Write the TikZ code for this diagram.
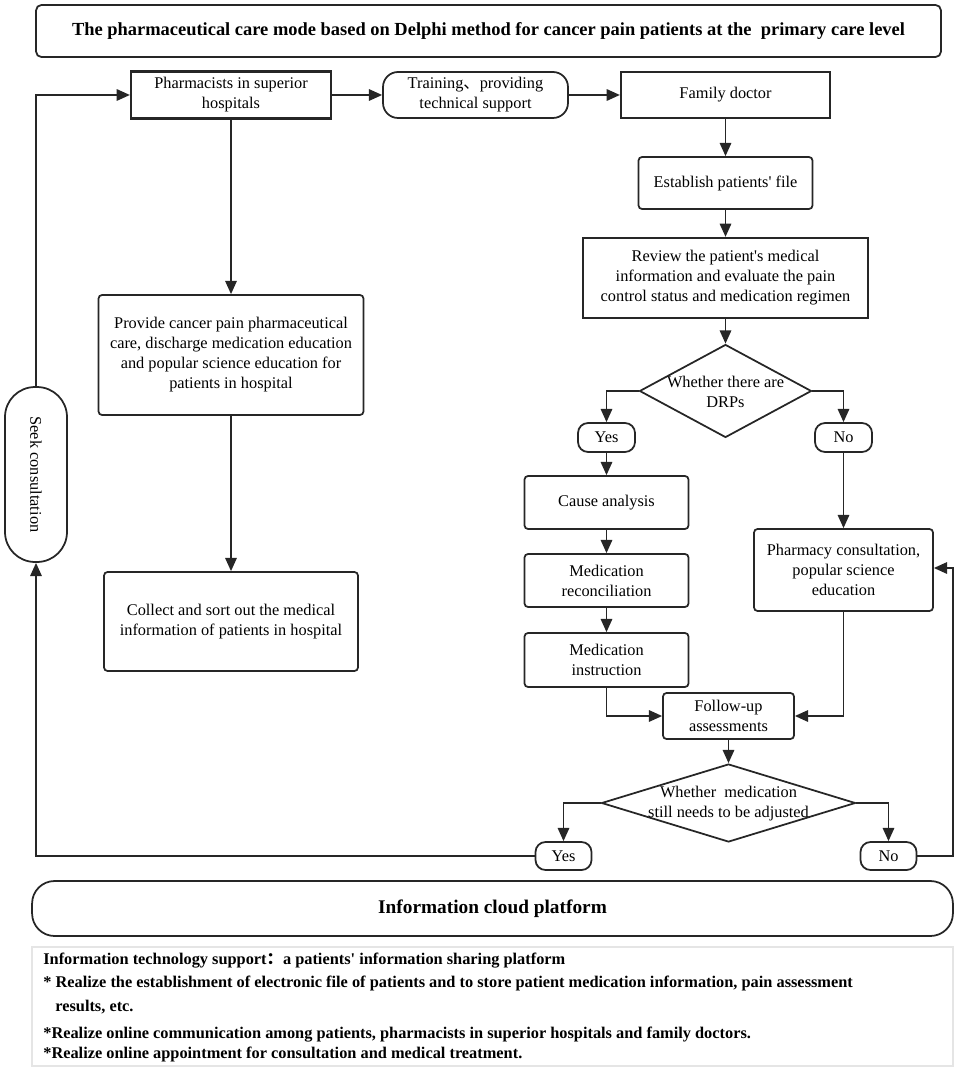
\documentclass[tikz,border=0pt]{standalone}
\usepackage{fontspec}
\setmainfont{Liberation Serif}
\newfontfamily\cjk{Noto Sans CJK SC}
\usetikzlibrary{arrows.meta,shapes.geometric}
\definecolor{linecol}{HTML}{262626}

\begin{document}
\begin{tikzpicture}[x=0.02cm, y=-0.02cm,
    every node/.style={font=\fontsize{9.3}{11.4}\selectfont},
    box/.style={draw=linecol, line width=1pt, align=center, inner sep=1pt},
    sbox/.style={box, line width=1.3pt},
    rbox/.style={box, rounded corners=2pt},
    pill/.style={box, rounded corners=0.2cm},
    decision/.style={draw=linecol, line width=1pt, diamond, inner sep=0pt},
    arr/.style={draw=linecol, line width=1pt, -{Triangle[length=7.5pt, width=6.5pt]}},
    link/.style={draw=linecol, line width=1pt}]
    \useasboundingbox (0,0) rectangle (969,1077);

    % Title
    \node[rbox, rounded corners=3pt, minimum width=18.1cm, minimum height=1.04cm,
      font=\fontsize{10.5}{12}\selectfont\bfseries] (title) at (488.5,31)
      {The pharmaceutical care mode based on Delphi method for cancer pain patients at the\ \ primary care level};

    % Top row
    \node[sbox, minimum width=4.0cm, minimum height=0.94cm] (pharm) at (231,95) {Pharmacists in superior\\hospitals};
    \node[box, rounded corners=0.3cm, minimum width=3.7cm, minimum height=0.92cm] (train) at (475.5,95) {Training{\cjk 、}providing\\technical support};
    \node[sbox, minimum width=4.18cm, minimum height=0.92cm] (family) at (725.5,95) {Family doctor};

    % Hospital side
    \node[rbox, minimum width=5.3cm, minimum height=2.4cm] (provide) at (231,355)
      {Provide cancer pain pharmaceutical\\care, discharge medication education\\and popular science education for\\patients in hospital};
    \node[rbox, minimum width=5.08cm, minimum height=1.98cm] (collect) at (231,621.5)
      {Collect and sort out the medical\\information of patients in hospital};
    \node[box, rounded corners=0.6cm, minimum width=1.24cm, minimum height=3.5cm] (seek) at (36,474.5) {};
    \node[rotate=-90] (seektext) at (seek) {Seek consultation};

    % Primary care side
    \node[rbox, minimum width=3.48cm, minimum height=1.04cm] (establish) at (725.5,183) {Establish patients\textquotesingle\ file};
    \node[sbox, minimum width=5.7cm, minimum height=1.6cm] (review) at (725.5,278)
      {Review the patient\textquotesingle s medical\\information and evaluate the pain\\control status and medication regimen};
    \node[decision, minimum width=3.44cm, minimum height=1.86cm] (drp) at (725.5,391) {};
    \node[align=center] (drptext) at (725.5,392) {Whether there are\\DRPs};
    \node[pill, minimum width=1.14cm, minimum height=0.58cm] (yes1) at (606.5,437.5) {Yes};
    \node[pill, minimum width=1.14cm, minimum height=0.58cm] (no1) at (843.5,437.5) {No};
    \node[rbox, minimum width=3.28cm, minimum height=1.06cm] (cause) at (606.5,502.5) {Cause analysis};
    \node[rbox, minimum width=3.28cm, minimum height=1.06cm] (recon) at (606.5,580.5) {Medication\\reconciliation};
    \node[rbox, minimum width=3.28cm, minimum height=1.08cm] (instr) at (606.5,660) {Medication\\instruction};
    \node[rbox, minimum width=3.58cm, minimum height=1.64cm] (consult) at (843.5,570)
      {Pharmacy consultation,\\popular science\\education};
    \node[rbox, minimum width=2.62cm, minimum height=0.92cm] (follow) at (728.5,716) {Follow-up\\assessments};
    \node[decision, minimum width=5.08cm, minimum height=1.56cm] (adjust) at (728.5,803) {};
    \node[align=center] (adjusttext) at (728.5,804) {Whether\ \ medication\\still needs to be adjusted};
    \node[pill, minimum width=1.12cm, minimum height=0.56cm] (yes2) at (563.5,856) {Yes};
    \node[pill, minimum width=1.12cm, minimum height=0.56cm] (no2) at (888.5,856) {No};
    \coordinate (loop) at (953,568);

    % Platform
    \node[box, rounded corners=0.45cm, minimum width=18.42cm, minimum height=1.1cm,
      font=\fontsize{11}{13}\selectfont\bfseries] (cloud) at (492.5,908.5) {Information cloud platform};
    \draw[gray!20, line width=0.8pt] (32,947) rectangle (953,1066);
    \begin{scope}[every node/.style={anchor=base west, inner sep=0pt, font=\fontsize{9.3}{11}\selectfont\bfseries}]
      \node (info1) at (43,964) {Information technology support{\cjk ：}a patients\textquotesingle\ information sharing platform};
      \node (info2) at (43,987) {* Realize the establishment of electronic file of patients and to store patient medication information, pain assessment};
      \node (info3) at (55,1011) {results, etc.};
      \node (info4) at (43,1038) {*Realize online communication among patients, pharmacists in superior hospitals and family doctors.};
      \node (info5) at (43,1058) {*Realize online appointment for consultation and medical treatment.};
    \end{scope}

    % Connectors
    \draw[arr] (pharm) -- (train);
    \draw[arr] (train) -- (family);
    \draw[arr] (pharm) -- (provide);
    \draw[arr] (provide) -- (collect);
    \draw[arr] (family) -- (establish);
    \draw[arr] (establish) -- (review);
    \draw[arr] (review) -- (drp);
    \draw[arr] (drp.west) -| (yes1);
    \draw[arr] (drp.east) -| (no1);
    \draw[arr] (yes1) -- (cause);
    \draw[arr] (cause) -- (recon);
    \draw[arr] (recon) -- (instr);
    \draw[arr] (no1) -- (consult);
    \draw[arr] (instr) |- (follow);
    \draw[arr] (consult) |- (follow);
    \draw[arr] (follow) -- (adjust);
    \draw[arr] (adjust.west) -| (yes2);
    \draw[arr] (adjust.east) -| (no2);
    \draw[arr] (no2.east) -| (loop) -- (loop -| consult.east);
    \draw[arr] (yes2.west) -| (seek.south);
    \draw[arr] (seek.north) |- (pharm.west);
\end{tikzpicture}
\end{document}
